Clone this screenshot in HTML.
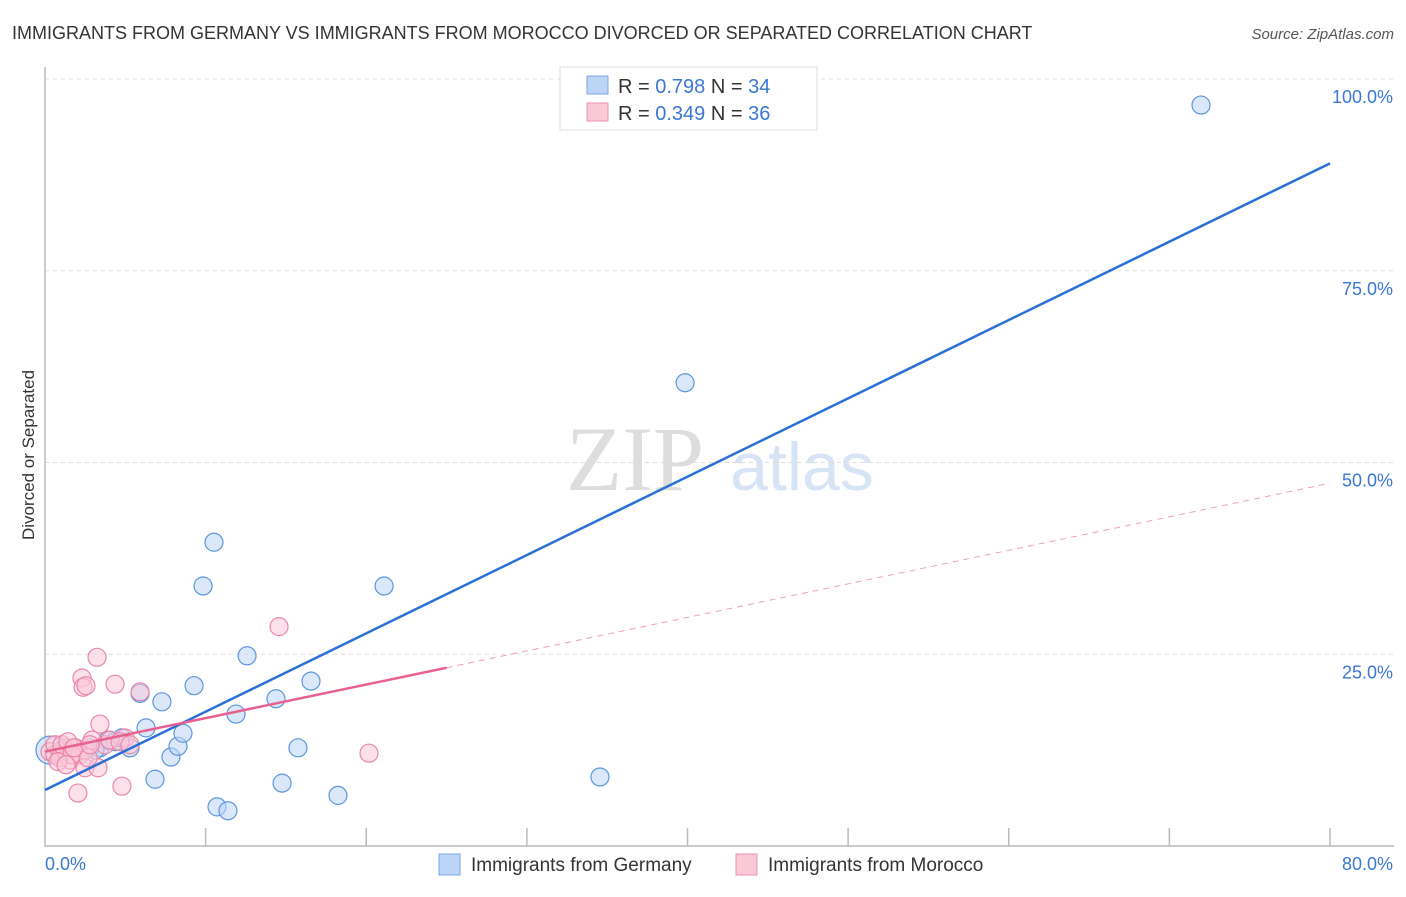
<!DOCTYPE html>
<html><head><meta charset="utf-8"><style>
body{margin:0;background:#fff;font-family:"Liberation Sans",sans-serif;}
svg text{font-family:"Liberation Sans",sans-serif;}
</style></head><body>
<svg width="1406" height="892" viewBox="0 0 1406 892">
<text x="12" y="39" font-size="18" fill="#333">IMMIGRANTS FROM GERMANY VS IMMIGRANTS FROM MOROCCO DIVORCED OR SEPARATED CORRELATION CHART</text>
<text x="1394" y="39" font-size="15" fill="#555" font-style="italic" text-anchor="end">Source: ZipAtlas.com</text>
<g>
<text x="635" y="490" font-size="92" fill="#ddd" font-family="Liberation Serif" text-anchor="middle" style="font-family:'Liberation Serif',serif">ZIP</text>
<text x="802" y="490" font-size="68" fill="#d6e4f5" text-anchor="middle">atlas</text>
</g>
<g id="grid"></g>
<g id="axes"></g>
<g id="marks"></g>
<text transform="translate(34,455) rotate(-90)" font-size="17" fill="#333" text-anchor="middle">Divorced or Separated</text>
<text x="45" y="870" font-size="18" fill="#3a78d4">0.0%</text>
<text x="1393" y="870" font-size="18" fill="#3a78d4" text-anchor="end">80.0%</text>
<g>
<rect x="560" y="67" width="257" height="63" fill="#fff" stroke="#ddd"/>
<rect x="587" y="76" width="21" height="18" fill="#bcd5f5" stroke="#7aa7e6"/>
<rect x="587" y="103" width="21" height="18" fill="#fbc9d8" stroke="#ee8fae"/>
<text x="618" y="93" font-size="20" fill="#333">R = <tspan fill="#3a78d4">0.798</tspan>   N = <tspan fill="#3a78d4">34</tspan></text>
<text x="618" y="120" font-size="20" fill="#333">R = <tspan fill="#3a78d4">0.349</tspan>   N = <tspan fill="#3a78d4">36</tspan></text>
</g>
<g>
<rect x="439" y="854" width="21" height="21" fill="#bcd5f5" stroke="#7aa7e6"/>
<text x="471" y="871" font-size="19" fill="#333">Immigrants from Germany</text>
<rect x="736" y="854" width="21" height="21" fill="#fbc9d8" stroke="#ee8fae"/>
<text x="768" y="871" font-size="19" fill="#333">Immigrants from Morocco</text>
</g>
</svg>
<script>
const germanyX=[0.31,1.25,1.87,2.80,3.42,3.92,4.36,4.79,5.29,5.92,6.29,6.85,7.28,7.84,8.28,8.59,9.28,9.84,10.52,10.71,11.39,11.89,12.58,14.38,14.76,15.75,16.56,18.24,21.11,34.55,39.85,71.97,0.93,3.11];
const germanyY=[12.5,12.8,12.8,12.8,12.8,13.8,13.6,14.1,12.8,19.9,15.4,8.7,18.8,11.6,13.0,14.7,20.9,33.9,39.6,5.1,4.6,17.2,24.8,19.2,8.2,12.8,21.5,6.6,33.9,9.0,60.4,96.6,12.3,12.5];
const moroccoX=[0.31,0.62,0.93,1.25,1.56,1.87,2.18,2.49,2.05,2.30,2.37,2.55,3.24,3.42,2.49,3.30,4.36,4.79,4.98,5.92,2.93,3.74,14.57,20.17,0.62,1.06,1.43,1.68,2.68,0.81,1.31,1.81,2.80,4.05,4.67,5.29];
const moroccoY=[12.3,11.9,11.5,12.5,11.2,12.8,11.9,12.5,6.9,21.9,20.7,20.9,24.6,15.9,10.2,10.2,21.1,7.8,14.1,20.1,13.8,13.2,28.6,12.1,13.2,13.2,13.6,11.9,11.5,11.0,10.6,12.8,13.2,13.8,13.6,13.2];
const yTicks=[25,50,75,100];
const yTickLabels=["25.0%","50.0%","75.0%","100.0%"];
const xTicks=[10,20,30,40,50,60,70,80];
const germanyFit=[7.3,89.0];
const moroccoFit=[12.3,47.3];
const moroccoSolidEnd=25;

const NS="http://www.w3.org/2000/svg";
const sx=v=>45+v*1285/80;
const sy=v=>846-v*7.67;
function mk(parent,tag,attrs){const e=document.createElementNS(NS,tag);for(const k in attrs)e.setAttribute(k,attrs[k]);document.getElementById(parent).appendChild(e);return e;}
yTicks.forEach((t,i)=>{
  const l=mk('grid','line',{x1:45,x2:1394,y1:sy(t),y2:sy(t),stroke:'#ddd','stroke-dasharray':'4,4'});
  
  
  const tx=mk('grid','text',{x:1393,y:sy(t)+24,'font-size':18,fill:'#3a78d4','text-anchor':'end'});
  tx.textContent=yTickLabels[i];
  
  
});
const ax=mk('axes','path',{d:`M45 67 V846 H1394`,fill:'none',stroke:'#bbb','stroke-width':1.5});


xTicks.forEach(t=>{
  const l=mk('axes','line',{x1:sx(t),x2:sx(t),y1:828,y2:846,stroke:'#bbb','stroke-width':1.5});
  
  
});
function dot(x,y,r,fill,stroke,name){
  const c=mk('marks','circle',{cx:sx(x),cy:sy(y),r:r,fill:fill,'fill-opacity':0.55,stroke:stroke,'stroke-width':1.2});
  
  
}
germanyX.forEach((x,i)=>dot(x,germanyY[i],i===0?14:9,'#bcd5f5','#5d95e0','germany-point'));
moroccoX.forEach((x,i)=>dot(x,moroccoY[i],9,'#fbc9d8','#ec86a8','morocco-point'));
const gl=mk('marks','line',{x1:sx(0),y1:sy(germanyFit[0]),x2:sx(80),y2:sy(germanyFit[1]),stroke:'#2a6fd6','stroke-width':2.5});


const ym=moroccoFit[0]+(moroccoFit[1]-moroccoFit[0])*moroccoSolidEnd/80;
const ml=mk('marks','line',{x1:sx(0),y1:sy(moroccoFit[0]),x2:sx(moroccoSolidEnd),y2:sy(ym),stroke:'#e8608f','stroke-width':2.5});


const md=mk('marks','line',{x1:sx(moroccoSolidEnd),y1:sy(ym),x2:sx(80),y2:sy(moroccoFit[1]),stroke:'#e8a0b8','stroke-width':1,'stroke-dasharray':'6,5'});


</script>
</body></html>
